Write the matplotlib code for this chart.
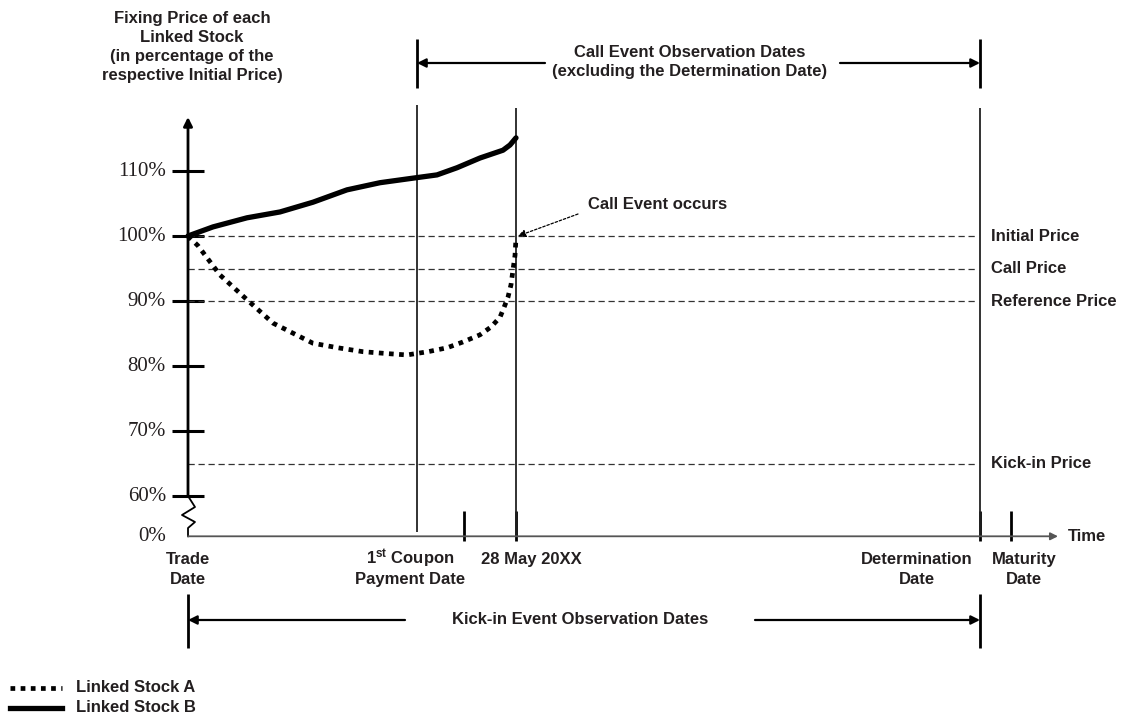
import matplotlib
matplotlib.use("Agg")
import matplotlib.pyplot as plt

plt.rcParams['font.family'] = ['Liberation Sans', 'DejaVu Sans']
plt.rcParams['mathtext.fontset'] = 'custom'
plt.rcParams['mathtext.rm'] = 'Liberation Sans'
plt.rcParams['mathtext.bf'] = 'Liberation Sans:bold'

# ---------------- data ----------------
trade_date = 0
coupon_date = 229
coupon_tick = 276
call_date = 328
determination_date = 792
maturity_date = 823
time_end = 870

y_ticks = [60, 70, 80, 90, 100, 110]
y_tick_labels = ['60%', '70%', '80%', '90%', '100%', '110%']
axis_base = 53.8
axis_base_label = '0%'

price_levels = [100, 95, 90, 65]
price_labels = ['Initial Price', 'Call Price', 'Reference Price', 'Kick-in Price']

stock_a_t = [0, 10, 32, 59, 85, 125, 150, 175, 200, 219, 240, 259, 275, 292, 303, 312, 316, 320, 323, 325, 327, 328]
stock_a = [100, 98.5, 94, 90.2, 86.6, 83.5, 82.8, 82.2, 81.9, 81.7, 82.2, 82.8, 83.7, 84.8, 86, 87.5, 89, 90.6, 92.5, 94.8, 97, 99.7]

stock_b_t = [0, 25, 59, 92, 125, 159, 192, 225, 249, 269, 292, 315, 322, 328]
stock_b = [100, 101.4, 102.8, 103.7, 105.2, 107.1, 108.2, 108.9, 109.4, 110.5, 112.0, 113.2, 114.0, 115.1]

x_labels = [(trade_date, ['Trade', 'Date']),
            (coupon_date - 7, ['$\\mathbf{1^{st}}$ Coupon', 'Payment Date']),
            (call_date + 15, ['28 May 20XX']),
            (determination_date - 63, ['Determination', 'Date']),
            (maturity_date + 13, ['Maturity', 'Date'])]

# ---------------- layout helpers ----------------
W, H = 1123, 723
X0, Y100, SC = 188, 236, 6.5


def px(x):
    return x - X0


def vy(y):
    return 100 - (y - Y100) / SC


TXT = '#231f20'
fig = plt.figure(figsize=(W / 100, H / 100), dpi=100)
ax = fig.add_axes([0, 0, 1, 1])
ax.set_xlim(px(0), px(W))
ax.set_ylim(vy(H), vy(0))
ax.axis('off')

bold = dict(fontsize=12, fontweight='bold', color=TXT)

# y axis title
ax.text(px(192), vy(47), 'Fixing Price of each\nLinked Stock\n(in percentage of the\nrespective Initial Price)',
        ha='center', va='center', linespacing=1.35, **bold)

# y axis with arrow and break
ax.annotate('', xy=(0, vy(117)), xytext=(0, 60),
            arrowprops=dict(arrowstyle='-|>', lw=2, color='black', mutation_scale=13,
                            shrinkA=0, shrinkB=0))
zz_x = [0, 7, -6, 7, 0, 0]
zz_y = [60, vy(507), vy(515), vy(522), vy(528), axis_base]
ax.plot(zz_x, zz_y, color='black', lw=1.3)
ax.hlines(y_ticks, -16, 16, colors='black', lw=2.2)
for v, lab in zip(y_ticks, y_tick_labels):
    ax.text(-22, v, lab, ha='right', va='center', fontsize=15, family='Liberation Serif', color=TXT)
ax.text(-22, axis_base, axis_base_label, ha='right', va='center', fontsize=15,
        family='Liberation Serif', color=TXT)

# x axis
ax.annotate('', xy=(time_end, axis_base), xytext=(0, axis_base),
            arrowprops=dict(arrowstyle='-|>', lw=1.3, color='#555555', mutation_scale=11,
                            shrinkA=0, shrinkB=0))
ax.text(px(1068), axis_base, 'Time', ha='left', va='center', **bold)
ax.vlines([coupon_tick, call_date, determination_date, maturity_date], vy(541), vy(511),
          colors='black', lw=2)
for t, lines in x_labels:
    for i, lab in enumerate(lines):
        ax.text(t, vy(564 + 20 * i), lab, ha='center', va='baseline', **bold)

# reference price levels
ax.hlines(price_levels, 0, determination_date - 2, colors='#333333', lw=0.9,
          linestyles=(0, (5, 3)))
for v, lab in zip(price_levels, price_labels):
    ax.text(px(991), v, lab, ha='left', va='center', **bold)

# event vertical lines
ax.vlines(coupon_date, vy(532), vy(105), colors='#222222', lw=1.3)
ax.vlines(call_date, axis_base, vy(108), colors='#222222', lw=1.3)
ax.vlines(determination_date, axis_base, vy(108), colors='#222222', lw=1.3)

# top bracket
ax.vlines([coupon_date, determination_date], vy(88), vy(39), colors='black', lw=2)
arr = dict(arrowstyle='-|>', lw=1.6, color='black', mutation_scale=13, shrinkA=0, shrinkB=0)
ax.annotate('', xy=(coupon_date, vy(63)), xytext=(px(545), vy(63)), arrowprops=arr)
ax.annotate('', xy=(determination_date, vy(63)), xytext=(px(840), vy(63)), arrowprops=arr)
ax.text(px(690), vy(62), 'Call Event Observation Dates\n(excluding the Determination Date)',
        ha='center', va='center', linespacing=1.3, **bold)

# bottom bracket
ax.vlines([trade_date, determination_date], vy(648), vy(594), colors='black', lw=2)
ax.annotate('', xy=(trade_date, vy(620)), xytext=(px(405), vy(620)), arrowprops=arr)
ax.annotate('', xy=(determination_date, vy(620)), xytext=(px(755), vy(620)), arrowprops=arr)
ax.text(px(580), vy(620), 'Kick-in Event Observation Dates', ha='center', va='center', **bold)

# stocks
ax.plot(stock_b_t, stock_b, color='black', lw=3.8, solid_capstyle='round', solid_joinstyle='round')
ax.plot(stock_a_t, stock_a, color='black', lw=3.4, linestyle=(0, (1, 1.15)), dash_capstyle='butt')

# call event annotation
ax.text(px(588), vy(204), 'Call Event occurs', ha='left', va='center', **bold)
ax.annotate('', xy=(call_date + 2, 100), xytext=(px(578), vy(214)),
            arrowprops=dict(arrowstyle='-|>', lw=0.9, color='black', linestyle=(0, (2, 1.5)),
                            mutation_scale=11, shrinkA=0, shrinkB=0))

# legend
ax.plot([px(10), px(62)], [vy(688), vy(688)], color='black', lw=3.4,
        linestyle=(0, (1, 1.15)), dash_capstyle='butt')
ax.plot([px(10), px(62)], [vy(708), vy(708)], color='black', lw=3.8)
ax.text(px(76), vy(688), 'Linked Stock A', ha='left', va='center', **bold)
ax.text(px(76), vy(708), 'Linked Stock B', ha='left', va='center', **bold)

fig.savefig('out.png', dpi=100)
